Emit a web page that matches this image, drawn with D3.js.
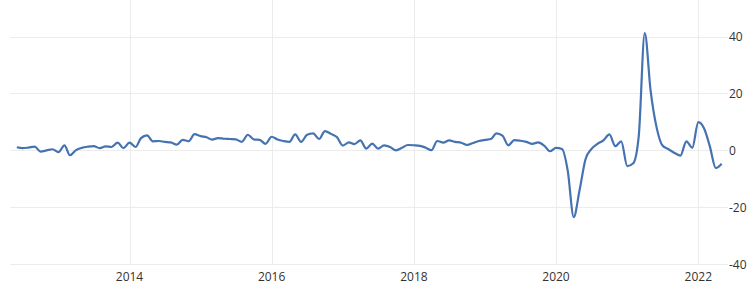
<!DOCTYPE html>
<html>
<head>
<meta charset="utf-8">
<script src="https://cdn.jsdelivr.net/npm/d3@7"></script>
<style>
  body { margin: 0; background: #fff; }
  svg { display: block; font-family: "Open Sans", "Noto Sans", sans-serif; }
  .grid line { stroke: #ececec; stroke-width: 1; shape-rendering: crispEdges; }
  .lbl { font-size: 12px; fill: #333; }
</style>
</head>
<body>
<svg></svg>
<script>
const startMonth = [2012, 5]; // June 2012, monthly
const values = [
  1.1, 0.8, 1.0, 1.3, -0.4, 0.0, 0.4, -0.6, 1.8, -1.7,
  0.1, 0.9, 1.3, 1.5, 0.8, 1.4, 1.2, 2.7, 0.8, 2.7,
  1.2, 4.3, 5.3, 3.2, 3.3, 3.0, 2.8, 2.0, 3.7, 3.2,
  5.7, 5.0, 4.6, 3.8, 4.3, 4.1, 4.0, 3.9, 3.0, 5.5,
  3.9, 3.7, 2.3, 4.8, 3.8, 3.3, 3.0, 5.6, 3.0, 5.5,
  6.0, 4.0, 6.8, 5.8, 4.7, 1.7, 2.8, 2.2, 3.5, 0.6,
  2.4, 0.6, 1.8, 1.2, 0.0, 0.9, 1.9, 1.8, 1.6, 1.0,
  0.1, 3.3, 2.7, 3.5, 3.0, 2.7, 1.9, 2.6, 3.3, 3.7,
  4.0, 6.0, 5.2, 1.8, 3.6, 3.4, 3.0, 2.3, 2.8, 1.7,
  -0.3, 0.9, 0.5, -7.0, -23.4, -14.0, -3.0, 0.5, 2.3, 3.5,
  5.6, 1.5, 3.2, -5.5, -4.5, 5.0, 41.2, 21.0, 8.0, 1.7,
  0.4, -0.9, -1.8, 3.2, 0.9, 9.9, 7.5, 1.5, -6.2, -4.7
];
const yTicks = [-40, -20, 0, 20, 40];
const xTickYears = [2014, 2016, 2018, 2020, 2022];

const data = values.map((v, i) => ({date: new Date(startMonth[0], startMonth[1] + i, 1), value: v}));

const svg = d3.select("svg")
  .attr("width", 754)
  .attr("height", 301);

const x = d3.scaleTime()
  .domain([new Date(2014, 0, 1), new Date(2022, 0, 1)])
  .range([129.5, 698.3]);

const y = d3.scaleLinear()
  .domain([-40, 40])
  .range([264.3, 36.5]);

const plot = {left: 10, right: 728, top: 0, bottom: 264.3};

// grid
const grid = svg.append("g").attr("class", "grid");
grid.selectAll("line.h")
  .data(yTicks)
  .enter()
  .append("line")
    .attr("x1", plot.left)
    .attr("x2", plot.right)
    .attr("y1", d => Math.round(y(d)) + 0.5)
    .attr("y2", d => Math.round(y(d)) + 0.5);

grid.selectAll("line.v")
  .data(xTickYears)
  .enter()
  .append("line")
    .attr("x1", d => Math.round(x(new Date(d, 0, 1))) + 0.5)
    .attr("x2", d => Math.round(x(new Date(d, 0, 1))) + 0.5)
    .attr("y1", plot.top)
    .attr("y2", plot.bottom);

// y labels (right side)
svg.append("g").selectAll("text")
  .data(yTicks)
  .enter()
  .append("text")
    .attr("class", "lbl")
    .attr("x", 729)
    .attr("y", d => y(d))
    .attr("dy", "0.35em")
    .text(d => d);

// x labels
svg.append("g").selectAll("text")
  .data(xTickYears)
  .enter()
  .append("text")
    .attr("class", "lbl")
    .attr("text-anchor", "middle")
    .attr("x", d => x(new Date(d, 0, 1)))
    .attr("y", 281)
    .text(d => d);

// line
const line = d3.line()
  .x(d => x(d.date))
  .y(d => y(d.value))
  .curve(d3.curveMonotoneX);

svg.append("path")
  .datum(data)
  .attr("fill", "none")
  .attr("stroke", "#4572b0")
  .attr("stroke-width", 2.2)
  .attr("stroke-linejoin", "round")
  .attr("d", line);
</script>
</body>
</html>
